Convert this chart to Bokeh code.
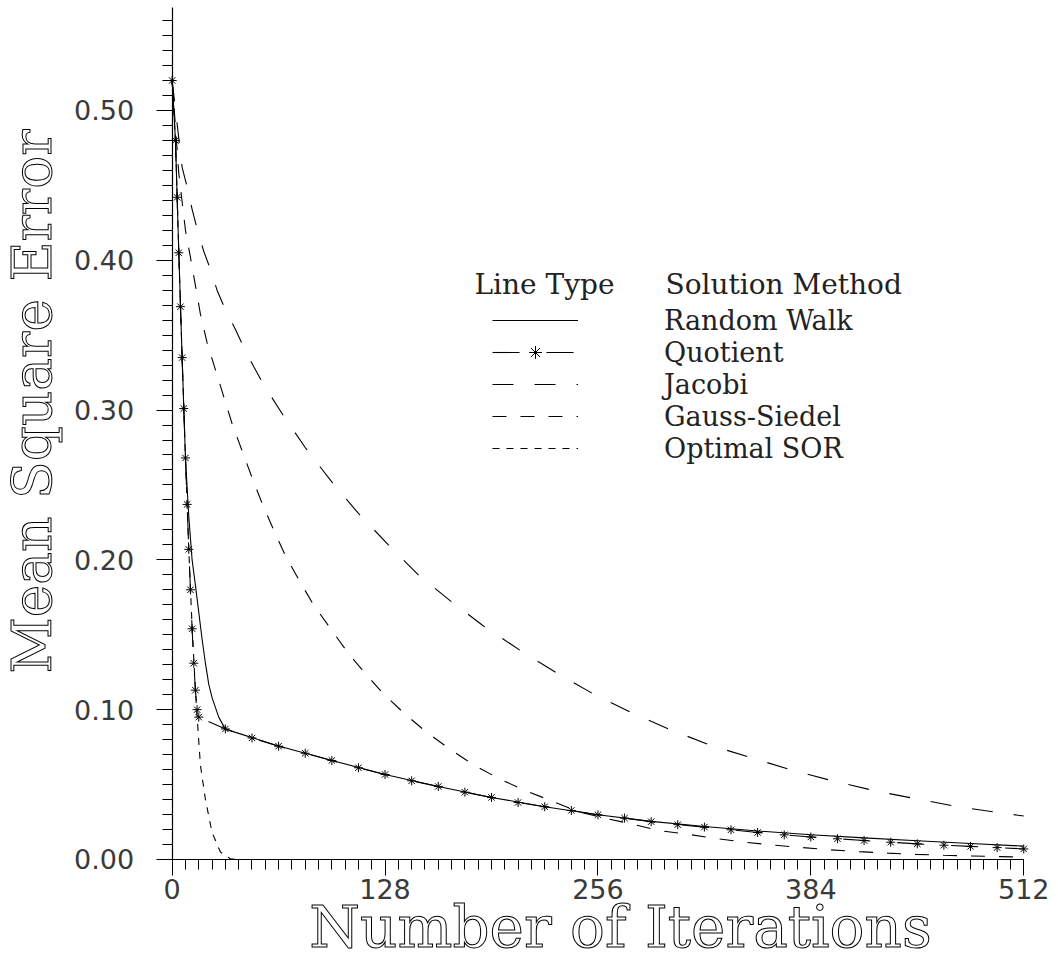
import math
from bokeh.plotting import figure
from bokeh.models import FixedTicker, Legend, LegendItem, Range1d, NumeralTickFormatter, Label
from bokeh.embed import file_html
from bokeh.resources import INLINE

# ---------------- data ----------------
x_ticks = [0, 128, 256, 384, 512]
y_ticks = [0.0, 0.1, 0.2, 0.3, 0.4, 0.5]
x_title = "Number of Iterations"
y_title = "Mean Square Error"
legend_heads = ["Line Type", "Solution Method"]

rw_x = [0, 2, 4, 6, 8, 10, 12, 14, 16, 18, 20, 22, 24, 28, 32, 64, 96, 128, 160,
        192, 224, 256, 288, 320, 352, 384, 416, 448, 480, 512]
rw_y = [0.520, 0.480, 0.405, 0.335, 0.268, 0.229, 0.200, 0.183, 0.165, 0.147, 0.131,
        0.117, 0.108, 0.095, 0.087, 0.0757, 0.0661, 0.0567, 0.0487, 0.0414, 0.0352,
        0.0298, 0.0254, 0.0220, 0.0190, 0.0165, 0.0144, 0.0125, 0.0106, 0.0089]

q_x = [0, 2, 3, 4, 5, 6, 7, 8, 9, 10, 11, 12, 13, 14, 15, 16,
       32, 48, 64, 80, 96, 112, 128, 144, 160, 176, 192, 208, 224, 240, 256,
       272, 288, 304, 320, 336, 352, 368, 384, 400, 416, 432, 448, 464, 480, 496, 512]
q_y = [0.520, 0.480, 0.442, 0.405, 0.369, 0.335, 0.301, 0.268, 0.237, 0.207, 0.180,
       0.154, 0.131, 0.113, 0.100, 0.095,
       0.0871, 0.0811, 0.0756, 0.0709, 0.0661, 0.0612, 0.0567, 0.0525, 0.0487, 0.0449,
       0.0414, 0.0380, 0.0352, 0.0327, 0.0298, 0.0276, 0.0252, 0.0232, 0.0216, 0.0198,
       0.0180, 0.0164, 0.0150, 0.0138, 0.0126, 0.0115, 0.0104, 0.0095, 0.0087, 0.0079,
       0.0070]

j_x = [0, 6, 9, 12, 15, 19, 23, 27, 32, 38, 43, 49, 55, 67, 80, 96, 112, 130, 148,
       168, 187, 210, 232, 254, 277, 300, 324, 349, 374, 398, 423, 448, 474, 499, 512]
j_y = [0.520, 0.462, 0.449, 0.434, 0.421, 0.406, 0.394, 0.380, 0.367, 0.354, 0.342,
       0.329, 0.317, 0.296, 0.275, 0.252, 0.231, 0.210, 0.190, 0.172, 0.156, 0.139,
       0.124, 0.110, 0.0976, 0.0864, 0.0761, 0.0676, 0.0592, 0.0522, 0.0457, 0.0403,
       0.0349, 0.0309, 0.0290]

g_x = [0, 4, 8, 11, 14, 17, 21, 26, 31, 36, 42, 48, 54, 61, 68, 76, 85, 94, 106, 116,
       127, 140, 153, 167, 181, 196, 211, 227, 244, 260, 276, 293, 310, 327, 344, 362,
       379, 396, 413, 430, 447, 464, 481, 498, 512]
g_y = [0.520, 0.458, 0.420, 0.402, 0.383, 0.364, 0.345, 0.327, 0.309, 0.291, 0.273,
       0.255, 0.238, 0.220, 0.203, 0.187, 0.170, 0.156, 0.1375, 0.1243, 0.1106, 0.0970,
       0.0849, 0.0736, 0.0633, 0.0542, 0.0466, 0.0395, 0.0320, 0.0275, 0.0238, 0.0192,
       0.0168, 0.0140, 0.0115, 0.0095, 0.0079, 0.0064, 0.0052, 0.0042, 0.0034, 0.0028,
       0.0023, 0.0019, 0.0016]

s_x = [0, 2, 4, 6, 8, 10, 12, 14, 15, 17, 20, 24, 29, 35, 40, 512]
s_y = [0.520, 0.480, 0.405, 0.335, 0.268, 0.207, 0.155, 0.113, 0.095, 0.063, 0.040,
       0.018, 0.005, 0.0005, 0.0, 0.0]

names = ["Random Walk", "Quotient", "Jacobi", "Gauss-Siedel", "Optimal SOR"]

# axis extents (data units)
x_min, x_max = 0, 512
y_min, y_max = 0.0, 0.569

# ---------------- figure ----------------
# the frame fills the whole canvas; axes sit at data 0 inside it
p = figure(width=1058, height=962, output_backend="svg", toolbar_location=None,
           x_range=Range1d(-103.2, 532.9), y_range=Range1d(-0.0688, 0.5734),
           min_border=0)
p.outline_line_color = None
p.xgrid.visible = False
p.ygrid.visible = False
p.background_fill_color = "white"
p.border_fill_color = "white"

lw = 1.1
r_rw = p.line(rw_x, rw_y, line_color="black", line_width=lw)
r_q = p.line(q_x, q_y, line_color="black", line_width=lw, line_dash="27 27")
r_qs = p.scatter(q_x, q_y, marker="asterisk", size=9, line_color="black", line_width=1)
r_j = p.line(j_x, j_y, line_color="black", line_width=lw, line_dash="21 21")
r_g = p.line(g_x, g_y, line_color="black", line_width=lw, line_dash="14 14")
r_s = p.line(s_x, s_y, line_color="black", line_width=lw, line_dash="7 7")

# axes
for ax in (p.xaxis[0], p.yaxis[0]):
    ax.axis_line_color = "black"
    ax.axis_line_width = 1.2
    ax.major_tick_line_color = "black"
    ax.minor_tick_line_color = "black"
    ax.major_tick_in = 0
    ax.minor_tick_in = 0
    ax.major_tick_out = 16
    ax.minor_tick_out = 10
    ax.major_label_text_font = "DejaVu Sans"
    ax.major_label_text_font_size = "27px"
    ax.major_label_text_color = "#3a3a3a"

p.xaxis.fixed_location = 0
p.yaxis.fixed_location = 0
p.xaxis.bounds = (x_min, x_max)
p.yaxis.bounds = (y_min, y_max)
p.xaxis.ticker = FixedTicker(ticks=x_ticks, minor_ticks=list(range(0, 513, 8)))
p.yaxis.ticker = FixedTicker(ticks=y_ticks, minor_ticks=[i / 100 for i in range(0, 57)])
p.yaxis.formatter = NumeralTickFormatter(format="0.00")
p.xaxis.major_label_standoff = 4
p.yaxis.major_label_standoff = 22

# axis titles as outlined text (screen px from frame bottom-left)
xt = Label(x=620, y=36, x_units="screen", y_units="screen", text=x_title,
           text_font="DejaVu Serif", text_font_size="58px", text_align="center",
           text_baseline="alphabetic", text_color="white", text_outline_color="black")
yt = Label(x=31, y=561, x_units="screen", y_units="screen", text=y_title,
           angle=math.pi / 2, text_font="DejaVu Serif", text_font_size="55px",
           text_align="center", text_baseline="alphabetic", text_color="white",
           text_outline_color="black")
p.add_layout(xt)
p.add_layout(yt)

# legend column headings
for txt, hx in zip(legend_heads, [474, 665]):
    p.add_layout(Label(x=hx, y=678, x_units="screen", y_units="screen", text=txt,
                       text_font="DejaVu Serif", text_font_size="28px",
                       text_align="left", text_baseline="alphabetic",
                       text_color="#222222"))

# legend
legend = Legend(items=[
    LegendItem(label=names[0], renderers=[r_rw]),
    LegendItem(label=names[1], renderers=[r_q, r_qs]),
    LegendItem(label=names[2], renderers=[r_j]),
    LegendItem(label=names[3], renderers=[r_g]),
    LegendItem(label=names[4], renderers=[r_s]),
], location=(492, 498))
legend.label_text_font = "DejaVu Serif"
legend.label_text_font_size = "27px"
legend.label_text_color = "#222222"
legend.glyph_width = 86
legend.glyph_height = 32
legend.label_height = 32
legend.label_standoff = 86
legend.spacing = 0
legend.padding = 0
legend.margin = 0
legend.border_line_color = None
legend.background_fill_alpha = 0
p.add_layout(legend)

open("out.html", "w").write(file_html(p, INLINE))
